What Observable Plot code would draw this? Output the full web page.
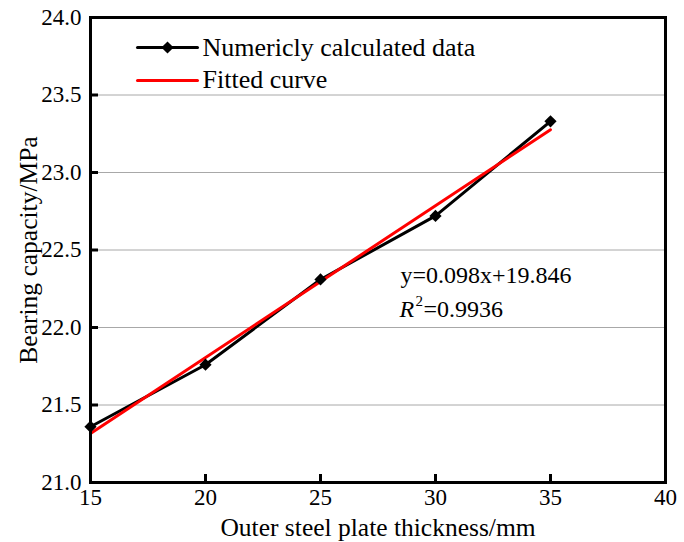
<!DOCTYPE html>
<html>
<head>
<meta charset="utf-8">
<script src="https://cdn.jsdelivr.net/npm/d3@7"></script>
<script src="https://cdn.jsdelivr.net/npm/@observablehq/plot@0.6"></script>
<style>
  html, body { margin: 0; padding: 0; background: #fff; }
  #chart svg { display: block; }
</style>
</head>
<body>
<div id="chart"></div>
<script>
const thickness = [15, 20, 25, 30, 35];
const capacity = [21.36, 21.76, 22.31, 22.72, 23.33];
const fitThickness = [15, 35];
const fitCapacity = [21.316, 23.276];
const xTicks = [15, 20, 25, 30, 35, 40];
const yTicks = [21.0, 21.5, 22.0, 22.5, 23.0, 23.5, 24.0];
const legendLabels = ["Numericly calculated data", "Fitted curve"];
const xTitle = "Outer steel plate thickness/mm";
const yTitle = "Bearing capacity/MPa";
const equationText = "y=0.098x+19.846";
const r2Value = "=0.9936";

const W = 684, H = 542;
const mL = 90, mR = 19, mT = 17, mB = 60;
const innerW = W - mL - mR, innerH = H - mT - mB;
const font = "Liberation Serif";

const measured = thickness.map((x, i) => ({x, y: capacity[i]}));
const fitted = fitThickness.map((x, i) => ({x, y: fitCapacity[i]}));

const lineShape = {draw(ctx, l) { ctx.moveTo(0, 0); ctx.lineTo(0, -l); }};

const chart = Plot.plot({
  width: W, height: H,
  marginLeft: mL, marginRight: mR, marginTop: mT, marginBottom: mB,
  style: {fontFamily: font, fontSize: "20px", color: "#000", background: "#fff"},
  x: {domain: [15, 40]},
  y: {domain: [21, 24]},
  marks: [
    Plot.gridY(yTicks, {stroke: "#a8a8a8", strokeOpacity: 1, strokeWidth: 1}),
    Plot.axisX(xTicks, {tickSize: 0, tickPadding: 6, fontSize: 23, fontFamily: font, label: null}),
    Plot.axisY(yTicks, {tickSize: 0, tickPadding: 9, fontSize: 23, fontFamily: font, tickFormat: d3.format(".1f"), label: null}),
    Plot.text([xTitle], {frameAnchor: "bottom", dy: 45, text: d => d, fontSize: 25.5, fontFamily: font, fill: "#000", textAnchor: "middle", lineAnchor: "middle"}),
    Plot.text([yTitle], {frameAnchor: "left", dx: -62, rotate: -90, text: d => d, fontSize: 25.5, fontFamily: font, fill: "#000", textAnchor: "middle", lineAnchor: "middle"}),
    Plot.tickX(xTicks, {x: d => d, stroke: "#000", strokeWidth: 3, insetTop: innerH - 8}),
    Plot.tickY(yTicks, {y: d => d, stroke: "#000", strokeWidth: 3, insetRight: innerW - 8}),
    Plot.line(measured, {x: "x", y: "y", stroke: "#000", strokeWidth: 3}),
    Plot.line(fitted, {x: "x", y: "y", stroke: "#ff0000", strokeWidth: 3}),
    Plot.dot(measured, {x: "x", y: "y", symbol: "diamond2", r: 5.5, fill: "#000", stroke: "none"}),
    // legend
    Plot.vector([legendLabels[0]], {frameAnchor: "top-left", dx: 77, dy: 30, length: 60, rotate: 90, anchor: "middle", shape: lineShape, stroke: "#000", strokeWidth: 3}),
    Plot.dot([legendLabels[0]], {frameAnchor: "top-left", dx: 77, dy: 30, symbol: "diamond2", r: 5.5, fill: "#000"}),
    Plot.text([legendLabels[0]], {frameAnchor: "top-left", dx: 112, dy: 30, text: d => d, textAnchor: "start", lineAnchor: "middle", fontSize: 26, fontFamily: font, fill: "#000"}),
    Plot.vector([legendLabels[1]], {frameAnchor: "top-left", dx: 77, dy: 63, length: 60, rotate: 90, anchor: "middle", shape: lineShape, stroke: "#ff0000", strokeWidth: 3}),
    Plot.text([legendLabels[1]], {frameAnchor: "top-left", dx: 112, dy: 62, text: d => d, textAnchor: "start", lineAnchor: "middle", fontSize: 26, fontFamily: font, fill: "#000"}),
    // equation annotation
    Plot.text([equationText], {frameAnchor: "top-left", dx: 310, dy: 258, text: d => d, textAnchor: "start", lineAnchor: "middle", fontSize: 24, fontFamily: font, fill: "#000"}),
    Plot.text(["R"], {frameAnchor: "top-left", dx: 309, dy: 292, text: d => d, textAnchor: "start", lineAnchor: "middle", fontSize: 24, fontStyle: "italic", fontFamily: font, fill: "#000"}),
    Plot.text(["2"], {frameAnchor: "top-left", dx: 325, dy: 284, text: d => d, textAnchor: "start", lineAnchor: "middle", fontSize: 15, fontFamily: font, fill: "#000"}),
    Plot.text([r2Value], {frameAnchor: "top-left", dx: 333, dy: 292, text: d => d, textAnchor: "start", lineAnchor: "middle", fontSize: 24, fontFamily: font, fill: "#000"}),
    Plot.frame({stroke: "#000", strokeWidth: 3})
  ]
});
document.getElementById("chart").appendChild(chart);
</script>
</body>
</html>
